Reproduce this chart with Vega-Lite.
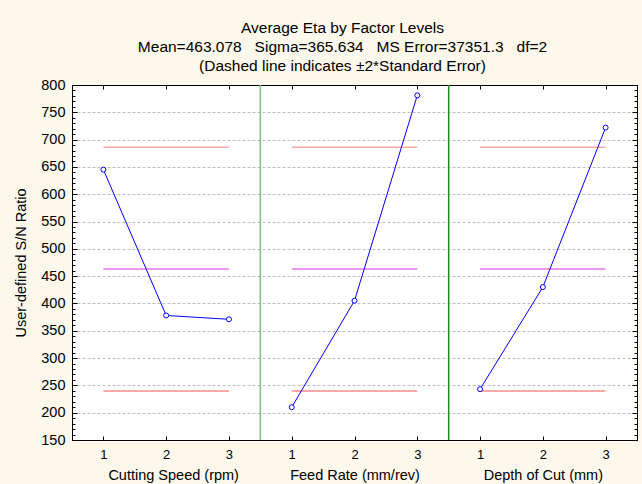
{
  "$schema": "https://vega.github.io/schema/vega-lite/v6.json",
  "width": 565,
  "height": 355,
  "autosize": {"type": "none"},
  "padding": {"left": 72, "top": 85, "right": 5, "bottom": 44},
  "background": "#FCF8EB",
  "config": {
    "font": "Liberation Sans",
    "view": {"fill": "white", "stroke": "black", "strokeWidth": 1},
    "axis": {"labelColor": "black", "titleColor": "black", "domainColor": "black", "tickColor": "black", "labelFont": "Liberation Sans", "titleFont": "Liberation Sans"}
  },
  "title": {
    "text": ["Average Eta by Factor Levels", "Mean=463.078\u00a0\u00a0\u00a0Sigma=365.634\u00a0\u00a0\u00a0MS Error=37351.3\u00a0\u00a0\u00a0df=2", "(Dashed line indicates ±2*Standard Error)"],
    "fontSize": 15.5,
    "fontWeight": "normal",
    "lineHeight": 19,
    "anchor": "middle",
    "dx": -12,
    "offset": 3,
    "color": "black",
    "font": "Liberation Sans"
  },
  "datasets": {
    "points": [
      {"factor": "Cutting Speed (rpm)", "level": 1, "pos": 1, "eta": 645},
      {"factor": "Cutting Speed (rpm)", "level": 2, "pos": 2, "eta": 378},
      {"factor": "Cutting Speed (rpm)", "level": 3, "pos": 3, "eta": 371},
      {"factor": "Feed Rate (mm/rev)", "level": 1, "pos": 4, "eta": 210},
      {"factor": "Feed Rate (mm/rev)", "level": 2, "pos": 5, "eta": 405},
      {"factor": "Feed Rate (mm/rev)", "level": 3, "pos": 6, "eta": 781},
      {"factor": "Depth of Cut (mm)", "level": 1, "pos": 7, "eta": 243},
      {"factor": "Depth of Cut (mm)", "level": 2, "pos": 8, "eta": 430},
      {"factor": "Depth of Cut (mm)", "level": 3, "pos": 9, "eta": 722}
    ],
    "refs": [
      {"factor": "Cutting Speed (rpm)", "from": 1, "to": 3, "line": "upper", "value": 686.2},
      {"factor": "Cutting Speed (rpm)", "from": 1, "to": 3, "line": "mean", "value": 463.078},
      {"factor": "Cutting Speed (rpm)", "from": 1, "to": 3, "line": "lower", "value": 239.9},
      {"factor": "Feed Rate (mm/rev)", "from": 4, "to": 6, "line": "upper", "value": 686.2},
      {"factor": "Feed Rate (mm/rev)", "from": 4, "to": 6, "line": "mean", "value": 463.078},
      {"factor": "Feed Rate (mm/rev)", "from": 4, "to": 6, "line": "lower", "value": 239.9},
      {"factor": "Depth of Cut (mm)", "from": 7, "to": 9, "line": "upper", "value": 686.2},
      {"factor": "Depth of Cut (mm)", "from": 7, "to": 9, "line": "mean", "value": 463.078},
      {"factor": "Depth of Cut (mm)", "from": 7, "to": 9, "line": "lower", "value": 239.9}
    ],
    "seps": [{"x": 3.5}, {"x": 6.5}]
  },
  "layer": [
    {
      "data": {"name": "seps"},
      "mark": {"type": "rule", "strokeWidth": 1.5},
      "encoding": {
        "x": {
          "field": "x", "type": "quantitative",
          "scale": {"domain": [0.5, 9.5], "nice": false, "zero": false},
          "axis": {
            "orient": "bottom", "values": [1, 2, 3, 4, 5, 6, 7, 8, 9],
            "labelExpr": "'' + (((datum.value - 1) % 3) + 1)",
            "title": null, "grid": false, "tickSize": -4, "labelPadding": 12,
            "labelFontSize": 13, "labelOverlap": false, "labelFlush": false
          }
        },
        "color": {"condition": {"test": "datum.x < 5", "value": "#7fc07f"}, "value": "#1a8c1a"}
      }
    },
    {
      "data": {"name": "refs"},
      "mark": {"type": "rule"},
      "encoding": {
        "x": {
          "field": "from", "type": "quantitative",
          "scale": {"domain": [0.5, 9.5], "nice": false, "zero": false},
          "axis": {
            "orient": "top", "values": [1, 2, 3, 4, 5, 6, 7, 8, 9],
            "labels": false, "title": null, "grid": false, "tickSize": -4
          }
        },
        "x2": {"field": "to"},
        "y": {
          "field": "value", "type": "quantitative",
          "scale": {"domain": [150, 800], "nice": false, "zero": false},
          "axis": {
            "orient": "left",
            "values": [150,160,170,180,190,200,210,220,230,240,250,260,270,280,290,300,310,320,330,340,350,360,370,380,390,400,410,420,430,440,450,460,470,480,490,500,510,520,530,540,550,560,570,580,590,600,610,620,630,640,650,660,670,680,690,700,710,720,730,740,750,760,770,780,790,800],
            "labelExpr": "datum.value % 50 == 0 ? datum.label : ''",
            "tickSize": {"condition": {"test": "datum.value % 50 == 0", "value": -5}, "value": -3},
            "grid": true,
            "gridOpacity": {"condition": {"test": "datum.value % 50 == 0 && datum.value > 150 && datum.value < 800", "value": 1}, "value": 0},
            "gridColor": "#bdbdbd", "gridDash": [3, 2],
            "labelFontSize": 14.5, "labelPadding": 12, "labelOverlap": false, "labelFlush": false,
            "title": "User-defined S/N Ratio", "titleFontSize": 14.5, "titleFontWeight": "normal", "titlePadding": 12
          }
        },
        "color": {"field": "line", "type": "nominal", "scale": {"domain": ["mean", "upper", "lower"], "range": ["#D830D8", "#FFA8A8", "#FFA8A8"]}, "legend": null},
        "strokeWidth": {"field": "line", "type": "nominal", "scale": {"domain": ["mean", "upper", "lower"], "range": [1, 2, 2]}, "legend": null}
      }
    },
    {
      "data": {"name": "points"},
      "mark": {"type": "line", "color": "#0000FF", "strokeWidth": 1},
      "encoding": {
        "x": {
          "field": "pos", "type": "quantitative",
          "scale": {"domain": [0.5, 9.5], "nice": false, "zero": false},
          "axis": {
            "orient": "bottom", "values": [2, 5, 8],
            "labelExpr": "datum.value == 2 ? 'Cutting Speed (rpm)' : datum.value == 5 ? 'Feed Rate (mm/rev)' : 'Depth of Cut (mm)'",
            "labelOffset": {"condition": {"test": "datum.value == 2", "value": 7}, "value": 0},
            "ticks": false, "domain": false, "grid": false, "title": null,
            "labelPadding": 28, "labelFontSize": 14.5, "labelOverlap": false, "labelFlush": false
          }
        },
        "y": {
          "field": "eta", "type": "quantitative",
          "scale": {"domain": [150, 800], "nice": false, "zero": false},
          "axis": {
            "orient": "right",
            "values": [150,160,170,180,190,200,210,220,230,240,250,260,270,280,290,300,310,320,330,340,350,360,370,380,390,400,410,420,430,440,450,460,470,480,490,500,510,520,530,540,550,560,570,580,590,600,610,620,630,640,650,660,670,680,690,700,710,720,730,740,750,760,770,780,790,800],
            "labels": false, "grid": false, "title": null,
            "tickSize": {"condition": {"test": "datum.value % 50 == 0", "value": -5}, "value": -3}
          }
        },
        "detail": {"field": "factor", "type": "nominal"}
      }
    },
    {
      "data": {"name": "points"},
      "mark": {"type": "point", "shape": "circle", "filled": true, "fill": "white", "stroke": "#0000FF", "strokeWidth": 1, "size": 25, "opacity": 1},
      "encoding": {
        "x": {"field": "pos", "type": "quantitative", "scale": {"domain": [0.5, 9.5], "nice": false, "zero": false}, "axis": null},
        "y": {"field": "eta", "type": "quantitative", "scale": {"domain": [150, 800], "nice": false, "zero": false}, "axis": null}
      }
    }
  ],
  "resolve": {"axis": {"x": "independent", "y": "independent"}}
}
